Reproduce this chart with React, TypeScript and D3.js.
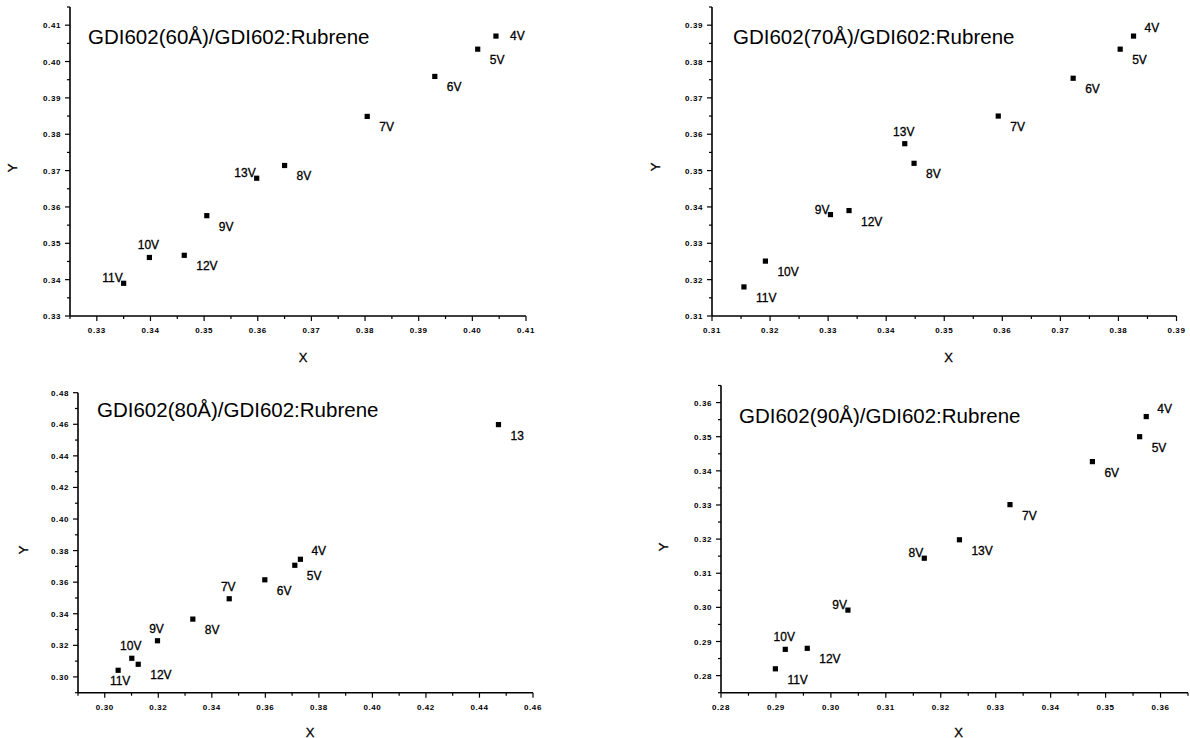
import React from "react";
import * as d3 from "d3";

// CIE x/y points at each drive voltage, one set per HTL thickness
const names60 = ["4V", "5V", "6V", "7V", "8V", "13V", "9V", "12V", "10V", "11V"];
const x60 = [0.4044, 0.401, 0.393, 0.3804, 0.365, 0.3598, 0.3505, 0.3463, 0.3398, 0.335];
const y60 = [0.407, 0.4034, 0.3959, 0.3849, 0.3714, 0.3679, 0.3576, 0.3467, 0.3461, 0.339];
const side60 = ["r", "br", "br", "br", "br", "l", "br", "br", "t", "l"];

const names70 = ["4V", "5V", "6V", "7V", "13V", "8V", "9V", "12V", "10V", "11V"];
const x70 = [0.3826, 0.3803, 0.3722, 0.3593, 0.3432, 0.3448, 0.3304, 0.3336, 0.3192, 0.3155];
const y70 = [0.387, 0.3834, 0.3754, 0.365, 0.3574, 0.352, 0.3379, 0.339, 0.3251, 0.318];
const side70 = ["tr", "br", "br", "br", "t", "br", "l", "br", "br", "br"];

const names80 = ["13", "4V", "5V", "6V", "7V", "8V", "9V", "10V", "12V", "11V"];
const x80 = [0.4471, 0.3731, 0.371, 0.3598, 0.3465, 0.3329, 0.3197, 0.3101, 0.3125, 0.305];
const y80 = [0.4598, 0.3745, 0.3707, 0.3615, 0.3495, 0.3366, 0.3229, 0.3118, 0.308, 0.3042];
const side80 = ["br", "tr", "br", "br", "t", "br", "t", "t", "br", "b"];

const names90 = ["4V", "5V", "6V", "7V", "13V", "8V", "9V", "10V", "12V", "11V"];
const x90 = [0.3574, 0.3562, 0.3476, 0.3326, 0.3234, 0.317, 0.3031, 0.2917, 0.2957, 0.2899];
const y90 = [0.3559, 0.35, 0.3427, 0.3301, 0.3198, 0.3144, 0.2992, 0.2877, 0.288, 0.282];
const side90 = ["tr", "br", "br", "br", "br", "l", "l", "t", "br", "br"];

const titles = [
  "GDI602(60Å)/GDI602:Rubrene",
  "GDI602(70Å)/GDI602:Rubrene",
  "GDI602(80Å)/GDI602:Rubrene",
  "GDI602(90Å)/GDI602:Rubrene",
];

const xTicks60 = [0.33, 0.34, 0.35, 0.36, 0.37, 0.38, 0.39, 0.4, 0.41];
const yTicks60 = [0.33, 0.34, 0.35, 0.36, 0.37, 0.38, 0.39, 0.4, 0.41];
const xTicks70 = [0.31, 0.32, 0.33, 0.34, 0.35, 0.36, 0.37, 0.38, 0.39];
const yTicks70 = [0.31, 0.32, 0.33, 0.34, 0.35, 0.36, 0.37, 0.38, 0.39];
const xTicks80 = [0.3, 0.32, 0.34, 0.36, 0.38, 0.4, 0.42, 0.44, 0.46];
const yTicks80 = [0.3, 0.32, 0.34, 0.36, 0.38, 0.4, 0.42, 0.44, 0.46, 0.48];
const xTicks90 = [0.28, 0.29, 0.3, 0.31, 0.32, 0.33, 0.34, 0.35, 0.36];
const yTicks90 = [0.28, 0.29, 0.3, 0.31, 0.32, 0.33, 0.34, 0.35, 0.36];

const FONT = "'Liberation Sans', Arial, Helvetica, sans-serif";

// label placement relative to the marker
const nudge: Record<string, [number, number, string]> = {
  r: [14, 4, "start"],
  tr: [11, -4, "start"],
  br: [12, 15, "start"],
  l: [-1, -1, "end"],
  t: [-1, -8, "middle"],
  b: [2, 15, "middle"],
};

function minorTicks(domain: number[], major: number[]) {
  const step = (major[1] - major[0]) / 2;
  const start = major[0] - Math.floor((major[0] - domain[0]) / step + 1e-6) * step;
  const out: number[] = [];
  for (let v = start; v <= domain[1] + 1e-9; v += step) {
    const r = Math.round(v * 10000) / 10000;
    if (!major.some((m) => Math.abs(m - r) < 1e-6)) out.push(r);
  }
  return out;
}

function Panel(props: any) {
  const p = props.p;
  const x = d3.scaleLinear().domain(p.xDomain).range([p.left, p.right]);
  const y = d3.scaleLinear().domain(p.yDomain).range([p.bottom, p.top]);
  const xMinor = minorTicks(p.xDomain, p.xTicks);
  const yMinor = minorTicks(p.yDomain, p.yTicks);
  const tickFont = { fontFamily: FONT, fontSize: 8, fontWeight: "bold" as const, letterSpacing: 0.6 };
  const labelFont = { fontFamily: FONT, fontSize: 12, stroke: "#000", strokeWidth: 0.3 };

  return (
    <g>
      {/* axes */}
      <line x1={p.left} x2={p.left} y1={p.top} y2={p.bottom} stroke="#000" strokeWidth={1.6} />
      <line x1={p.left} x2={p.right} y1={p.bottom} y2={p.bottom} stroke="#000" strokeWidth={1.6} />

      {p.xTicks.map((t: number) => (
        <g key={"xt" + t}>
          <line x1={x(t)} x2={x(t)} y1={p.bottom} y2={p.bottom + 5} stroke="#000" strokeWidth={1.2} />
          <text x={x(t)} y={p.bottom + 17} textAnchor="middle" style={tickFont}>
            {t.toFixed(2)}
          </text>
        </g>
      ))}
      {xMinor.map((t: number) => (
        <line key={"xm" + t} x1={x(t)} x2={x(t)} y1={p.bottom} y2={p.bottom + 3} stroke="#000" strokeWidth={1.2} />
      ))}

      {p.yTicks.map((t: number) => (
        <g key={"yt" + t}>
          <line x1={p.left - 5} x2={p.left} y1={y(t)} y2={y(t)} stroke="#000" strokeWidth={1.2} />
          <text x={p.left - 9} y={y(t) + 3} textAnchor="end" style={tickFont}>
            {t.toFixed(2)}
          </text>
        </g>
      ))}
      {yMinor.map((t: number) => (
        <line key={"ym" + t} x1={p.left - 3} x2={p.left} y1={y(t)} y2={y(t)} stroke="#000" strokeWidth={1.2} />
      ))}

      <text x={p.xTitle[0]} y={p.xTitle[1]} textAnchor="middle" dominantBaseline="central"
        style={{ ...labelFont, fontSize: 13 }}>X</text>
      <text transform={`translate(${p.yTitle[0]},${p.yTitle[1]}) rotate(-90)`} textAnchor="middle"
        dominantBaseline="central" style={{ ...labelFont, fontSize: 13 }}>Y</text>

      <text x={p.titlePos[0]} y={p.titlePos[1]} style={{ fontFamily: FONT, fontSize: 20.5 }}>
        {p.title}
      </text>

      {p.names.map((n: string, i: number) => {
        const cx = x(p.xs[i]);
        const cy = y(p.ys[i]);
        const [dx, dy, anchor] = nudge[p.sides[i]];
        return (
          <g key={n + i}>
            <rect x={cx - 2.6} y={cy - 2.6} width={5.2} height={5.2} fill="#000" />
            <text x={cx + dx} y={cy + dy} textAnchor={anchor as any} style={labelFont}>{n}</text>
          </g>
        );
      })}
    </g>
  );
}

const panels = [
  {
    title: titles[0], names: names60, xs: x60, ys: y60, sides: side60,
    xDomain: [0.325, 0.41], yDomain: [0.33, 0.415], xTicks: xTicks60, yTicks: yTicks60,
    left: 70, right: 526, top: 7, bottom: 316,
    titlePos: [88, 44], xTitle: [303, 357], yTitle: [12, 168],
  },
  {
    title: titles[1], names: names70, xs: x70, ys: y70, sides: side70,
    xDomain: [0.31, 0.39], yDomain: [0.31, 0.395], xTicks: xTicks70, yTicks: yTicks70,
    left: 712, right: 1176.5, top: 7, bottom: 316,
    titlePos: [733, 44], xTitle: [948.5, 357], yTitle: [655, 167],
  },
  {
    title: titles[2], names: names80, xs: x80, ys: y80, sides: side80,
    xDomain: [0.29, 0.46], yDomain: [0.29, 0.48], xTicks: xTicks80, yTicks: yTicks80,
    left: 78, right: 533, top: 392.7, bottom: 692.7,
    titlePos: [97, 417], xTitle: [310, 732], yTitle: [23, 550],
  },
  {
    title: titles[3], names: names90, xs: x90, ys: y90, sides: side90,
    xDomain: [0.28, 0.365], yDomain: [0.275, 0.365], xTicks: xTicks90, yTicks: yTicks90,
    left: 721, right: 1188, top: 385.5, bottom: 692.7,
    titlePos: [739, 423], xTitle: [958.5, 732], yTitle: [663, 547],
  },
];

export default function App() {
  return (
    <svg width={1190} height={738} style={{ position: "absolute", left: 0, top: 0, background: "#fff" }}>
      <rect width={1190} height={738} fill="#fff" />
      {panels.map((p, i) => (
        <Panel key={i} p={p} />
      ))}
    </svg>
  );
}
